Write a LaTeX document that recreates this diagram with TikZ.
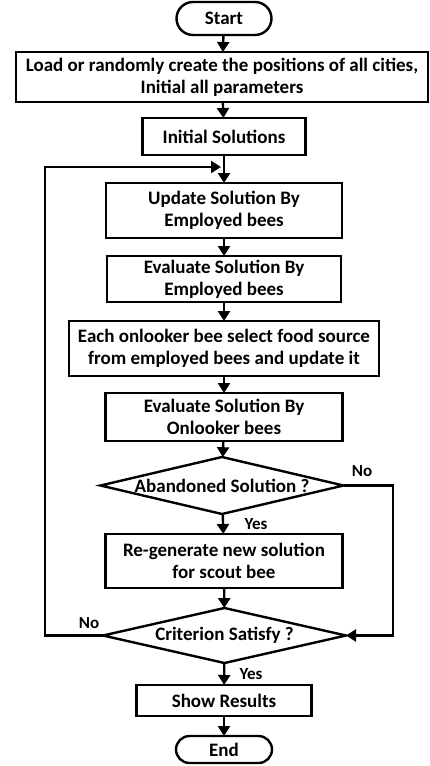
\documentclass[tikz,border=0pt]{standalone}
\usepackage{fontspec}
\setmainfont{Carlito}
\usetikzlibrary{arrows.meta,shapes.geometric,shapes.misc}
\begin{document}
\begin{tikzpicture}[x=1pt,y=-1pt,
  font=\fontsize{19}{22}\selectfont\bfseries,
  every node/.style={inner sep=0pt, outer sep=0pt},
  box/.style={draw, line width=2.4pt, rectangle, align=center},
  term/.style={draw, line width=2.4pt, rounded rectangle, align=center},
  dec/.style={draw, line width=2.4pt, diamond, aspect=4.3, align=center},
  flow/.style={line width=2.4pt, -{Triangle[length=10pt,width=12pt]}},
  lab/.style={font=\fontsize{17}{19}\selectfont\bfseries}]
\useasboundingbox (0,0) rectangle (430,766);
\node[term, minimum width=95pt, minimum height=33pt] (start) at (224,18.5) {Start};
\node[box, minimum width=412pt, minimum height=50pt] (load) at (222,77) {Load or randomly create the positions of all cities,\\Initial all parameters};
\node[box, minimum width=163pt, minimum height=37pt] (init) at (224,136.5) {Initial Solutions};
\node[box, minimum width=236pt, minimum height=55pt] (upd) at (224,210.5) {Update Solution By\\Employed bees};
\node[box, minimum width=234pt, minimum height=46pt] (ev1) at (224,279) {Evaluate Solution By\\Employed bees};
\node[box, minimum width=310pt, minimum height=55pt] (each) at (224,348.5) {Each onlooker bee select food source\\from employed bees and update it};
\node[box, minimum width=237pt, minimum height=48pt] (ev2) at (224,417) {Evaluate Solution By\\Onlooker bees};
\node[dec, minimum width=243pt, minimum height=57pt] (d1) at (222,485.5) {\makebox[0pt]{Abandoned Solution ?}};
\node[box, minimum width=237pt, minimum height=54pt] (regen) at (224,561) {Re-generate new solution\\for scout bee};
\node[dec, minimum width=243pt, minimum height=55pt] (d2) at (224.5,635.5) {\makebox[0pt]{Criterion Satisfy ?}};
\node[box, minimum width=175pt, minimum height=31pt] (show) at (224,700.5) {Show Results};
\node[term, minimum width=96pt, minimum height=27pt] (end) at (224,749.5) {End};
\coordinate (loopin) at (221,167);
\coordinate (lefttop) at (45,167);
\coordinate (leftbot) at (45,635.5);
\coordinate (rightbot) at (393,635.5);
\draw[flow] (start) -- (load);
\draw[flow] (load) -- (init);
\draw[flow] (init) -- (upd);
\draw[flow] (upd) -- (ev1);
\draw[flow] (ev1) -- (each);
\draw[flow] (each) -- (ev2);
\draw[flow] (ev2) -- (d1);
\draw[flow] (d1) -- (regen);
\draw[flow] (regen) -- (d2);
\draw[flow] (d2) -- (show);
\draw[flow] (show) -- (end);
\draw[flow] (d1.east) -| (rightbot) -- (d2.east);
\draw[flow] (d2.west) -- (leftbot) -- (lefttop) -- (loopin);
\node[lab] (no1) at (362,471) {No};
\node[lab] (yes1) at (256,524) {Yes};
\node[lab] (no2) at (89,623) {No};
\node[lab] (yes2) at (251,674) {Yes};
\end{tikzpicture}
\end{document}
